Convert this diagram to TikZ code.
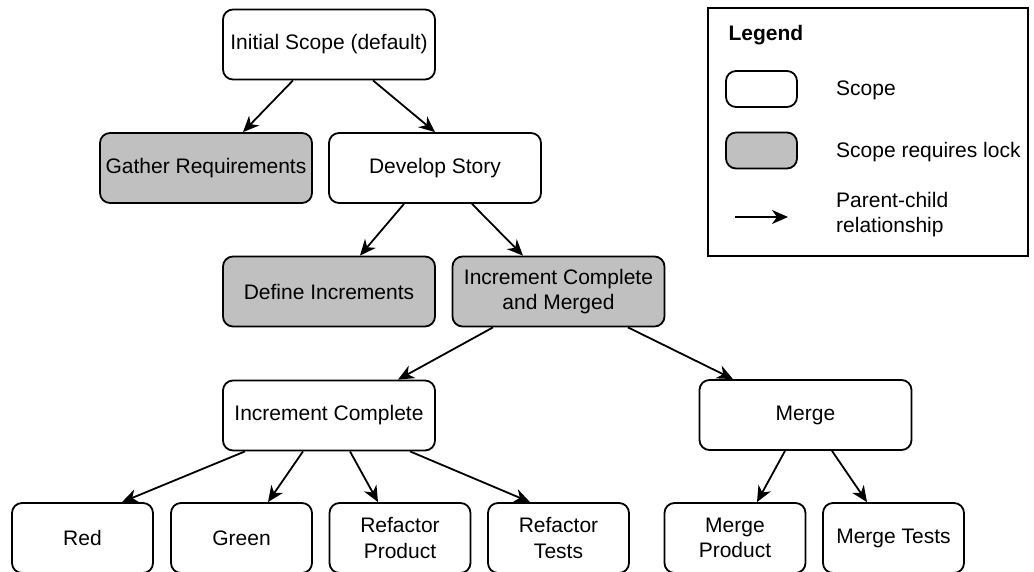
\documentclass[tikz,border=0pt]{standalone}
\usepackage{fontspec}
\setmainfont{Liberation Sans}
\usetikzlibrary{arrows.meta}
\definecolor{lockgray}{RGB}{192,192,192}
\begin{document}
\begin{tikzpicture}[x=1pt,y=-1pt,
  font=\fontsize{21}{25.4}\selectfont,
  scopebox/.style={draw, line width=1.8pt, rounded corners=10pt, fill=white,
    minimum width=212pt, minimum height=70pt, inner sep=0pt, align=center},
  smallbox/.style={scopebox, minimum width=141pt},
  lockbox/.style={fill=lockgray},
  link/.style={line width=1.8pt, -{Stealth[length=16pt,width=14pt,inset=5pt]}}]
\useasboundingbox (0,0) rectangle (1034,572);

% tree of scopes
\node[scopebox] (init) at (329,44.5) {Initial Scope (default)};
\node[scopebox,lockbox] (gather) at (206,168) {Gather Requirements};
\node[scopebox] (develop) at (435,168) {Develop Story};
\node[scopebox,lockbox] (define) at (329,291.5) {Define Increments};
\node[scopebox,lockbox] (icm) at (558.5,291.5) {Increment Complete\\and Merged};
\node[scopebox] (ic) at (329,415.5) {Increment Complete};
\node[scopebox] (merge) at (805.5,415) {Merge};
\node[smallbox] (red) at (82.5,538) {Red};
\node[smallbox] (green) at (241.5,538) {Green};
\node[smallbox] (rp) at (400,538) {Refactor\\Product};
\node[smallbox] (rt) at (558.5,538) {Refactor\\Tests};
\node[smallbox] (mp) at (735,538) {Merge\\Product};
\node[smallbox] (mt) at (893.5,538) {Merge Tests};

% parent-child links
\draw[link] ([xshift=-36pt]init.south) -- ([xshift=37pt]gather.north);
\draw[link] ([xshift=44pt]init.south) -- (develop.north);
\draw[link] ([xshift=-31pt]develop.south) -- ([xshift=31pt]define.north);
\draw[link] ([xshift=37pt]develop.south) -- ([xshift=-35.5pt]icm.north);
\draw[link] ([xshift=-65.5pt]icm.south) -- ([xshift=69pt]ic.north);
\draw[link] ([xshift=69.5pt]icm.south) -- ([xshift=-72.5pt]merge.north);
\draw[link] ([xshift=-84pt]ic.south) -- ([xshift=39.5pt]red.north);
\draw[link] ([xshift=-26pt]ic.south) -- ([xshift=26.5pt]green.north);
\draw[link] ([xshift=21pt]ic.south) -- ([xshift=-22pt]rp.north);
\draw[link] ([xshift=81pt]ic.south) -- ([xshift=-28.5pt]rt.north);
\draw[link] ([xshift=-20.5pt]merge.south) -- ([xshift=22pt]mp.north);
\draw[link] ([xshift=26.5pt]merge.south) -- ([xshift=-26.5pt]mt.north);

% legend
\node[draw, line width=1.4pt, minimum width=320pt, minimum height=248pt,
  inner sep=0pt] (legend) at (868,132) {};
\node[anchor=west, font=\fontsize{21}{25.4}\selectfont\bfseries] (legtitle)
  at (725,35) {Legend};
\node[draw, line width=1.8pt, rounded corners=10pt, minimum width=71pt,
  minimum height=36pt, inner sep=0pt] (legscope) at (761.5,89) {};
\node[draw, line width=1.8pt, rounded corners=10pt, fill=lockgray,
  minimum width=71pt, minimum height=36pt, inner sep=0pt] (leglock) at (761.5,150.5) {};
\node[anchor=west, inner sep=0pt] (legscopetxt) at (836,90) {Scope};
\node[anchor=west, inner sep=0pt] (leglocktxt) at (836,152) {Scope requires lock};
\coordinate (arrA) at (735,217);
\coordinate (arrB) at (788,217);
\draw[link] (arrA) -- (arrB);
\node[anchor=west, inner sep=0pt, align=left] (legreltxt) at (836,214.5)
  {Parent-child\\relationship};
\end{tikzpicture}
\end{document}
